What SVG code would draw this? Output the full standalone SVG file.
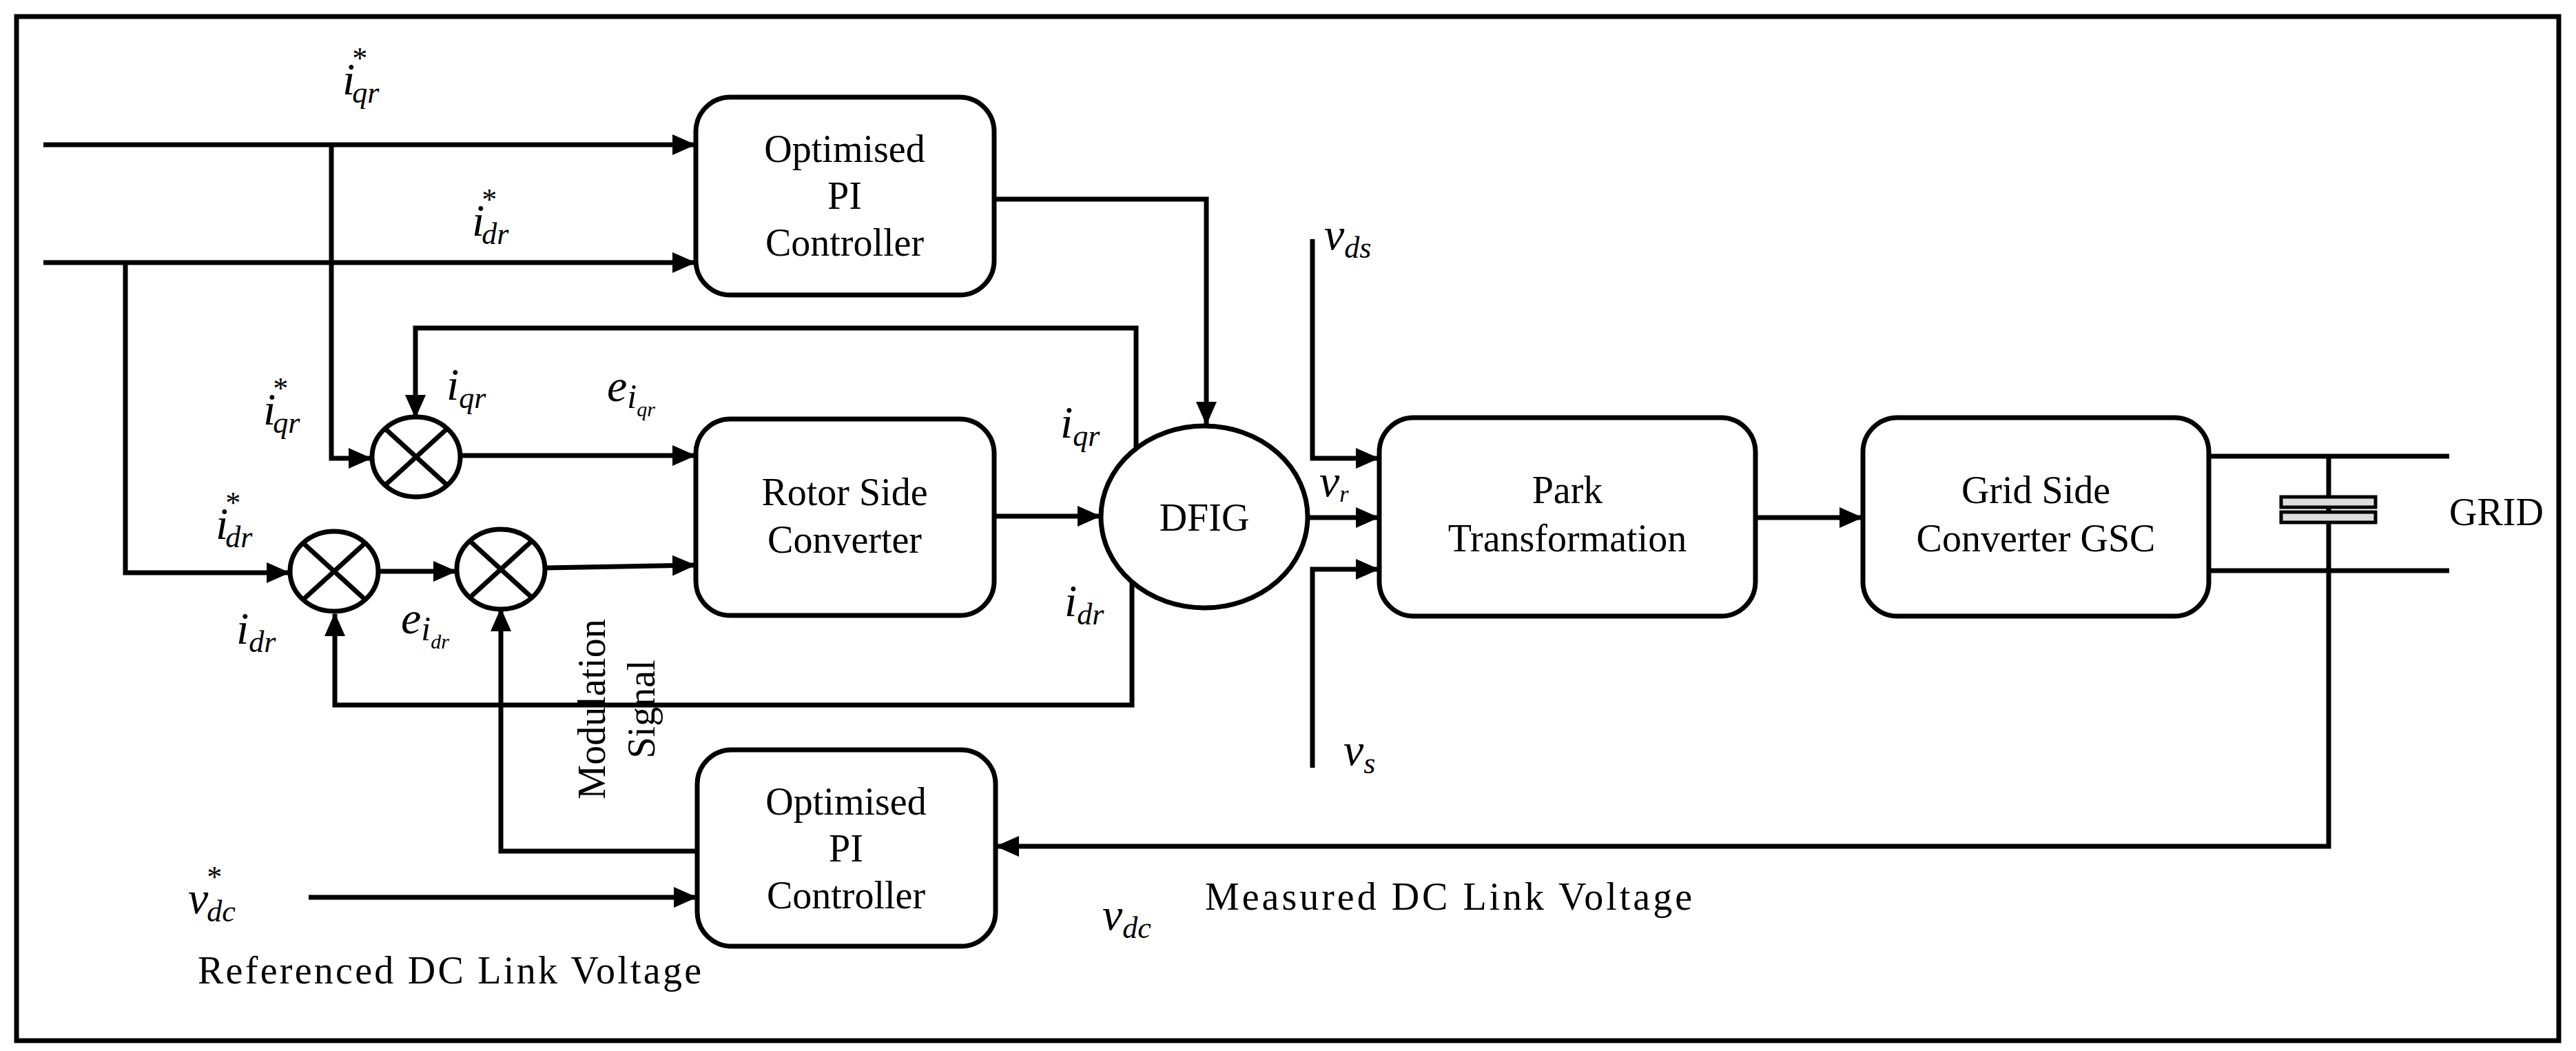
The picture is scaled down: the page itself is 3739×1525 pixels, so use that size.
<svg xmlns="http://www.w3.org/2000/svg" width="3739" height="1525" viewBox="0 0 3739 1525">
<defs>
<marker id="ah" markerUnits="userSpaceOnUse" markerWidth="34" markerHeight="30" refX="32" refY="15" orient="auto"><path d="M0,0 L34,15 L0,30 Z" fill="#000"/></marker>
</defs>
<style>
.box{fill:#fff;stroke:#000;stroke-width:7}
.ln{fill:none;stroke:#000;stroke-width:7}
.arr{fill:none;stroke:#000;stroke-width:7;marker-end:url(#ah)}
.t{font-family:"Liberation Serif",serif;font-size:56px;fill:#000}
.m{font-family:"Liberation Serif",serif;font-style:italic;font-size:66px;fill:#000}
.s{font-size:44px}
</style>
<rect x="24" y="24" width="3690" height="1486" fill="#fff" stroke="#000" stroke-width="7"/>
<g id="connectors">
<path class="arr" d="M63,210 H1008"/>
<path class="arr" d="M63,381 H1008"/>
<path class="arr" d="M481,210 V665 H538"/>
<path class="arr" d="M182,381 V831 H419"/>
<path class="arr" d="M1649,660 V476 H603 V605"/>
<path class="arr" d="M668,661 H1008"/>
<path class="arr" d="M550,829 H661"/>
<path class="arr" d="M792,824 L1008,820"/>
<path class="arr" d="M1443,749 H1596"/>
<path class="arr" d="M1443,289 H1751 V615"/>
<path class="arr" d="M1643,842 V1023 H486 V891"/>
<path class="arr" d="M1012,1235 H727 V884"/>
<path class="arr" d="M448,1302 H1010"/>
<path class="arr" d="M3380,662 V1228 H1447"/>
<path class="arr" d="M1905,347 V665 H2000"/>
<path class="arr" d="M1898,751 H2000"/>
<path class="arr" d="M1905,1114 V826 H2000"/>
<path class="arr" d="M2548,751 H2702"/>
<path class="ln" d="M3206,662 H3555 M3206,828 H3555"/>
</g>
<g id="capacitor">
<rect x="3311" y="721" width="137" height="15" fill="#ddd" stroke="#000" stroke-width="5"/>
<rect x="3311" y="743" width="137" height="15" fill="#ddd" stroke="#000" stroke-width="5"/>
</g>
<g id="pi-top"><rect class="box" x="1010" y="141" width="433" height="287" rx="50"/>
<text class="t" text-anchor="middle" x="1226" y="235">Optimised</text><text class="t" text-anchor="middle" x="1226" y="303">PI</text><text class="t" text-anchor="middle" x="1226" y="371">Controller</text></g>
<g id="rsc"><rect class="box" x="1010" y="608" width="433" height="285" rx="50"/>
<text class="t" text-anchor="middle" x="1226" y="733">Rotor Side</text><text class="t" text-anchor="middle" x="1226" y="802">Converter</text></g>
<g id="pi-bottom"><rect class="box" x="1012" y="1088" width="433" height="285" rx="50"/>
<text class="t" text-anchor="middle" x="1228" y="1182">Optimised</text><text class="t" text-anchor="middle" x="1228" y="1250">PI</text><text class="t" text-anchor="middle" x="1228" y="1318">Controller</text></g>
<g id="dfig"><ellipse class="box" cx="1748" cy="750" rx="150" ry="132"/>
<text class="t" text-anchor="middle" x="1748" y="770">DFIG</text></g>
<g id="park"><rect class="box" x="2002" y="606" width="546" height="288" rx="50"/>
<text class="t" text-anchor="middle" x="2275" y="730">Park</text><text class="t" text-anchor="middle" x="2275" y="800">Transformation</text></g>
<g id="gsc"><rect class="box" x="2704" y="606" width="502" height="288" rx="50"/>
<text class="t" text-anchor="middle" x="2955" y="730">Grid Side</text><text class="t" text-anchor="middle" x="2955" y="800">Converter GSC</text></g>
<g id="sum1"><ellipse class="box" cx="604" cy="663" rx="64" ry="58"/><path class="ln" stroke-width="5" d="M559,622 L649,704 M649,622 L559,704"/></g>
<g id="sum2"><ellipse class="box" cx="485" cy="829" rx="64" ry="58"/><path class="ln" stroke-width="5" d="M440,788 L530,870 M530,788 L440,870"/></g>
<g id="sum3"><ellipse class="box" cx="727" cy="826" rx="64" ry="58"/><path class="ln" stroke-width="5" d="M682,785 L772,867 M772,785 L682,867"/></g>
<g id="labels">
<text class="m" x="497" y="137">i<tspan class="s" dy="-38" dx="-6">*</tspan><tspan class="s" dy="50" dx="-20">qr</tspan></text>
<text class="m" x="685" y="342">i<tspan class="s" dy="-38" dx="-6">*</tspan><tspan class="s" dy="50" dx="-20">dr</tspan></text>
<text class="m" x="382" y="616">i<tspan class="s" dy="-38" dx="-6">*</tspan><tspan class="s" dy="50" dx="-20">qr</tspan></text>
<text class="m" x="313" y="782">i<tspan class="s" dy="-38" dx="-6">*</tspan><tspan class="s" dy="50" dx="-20">dr</tspan></text>
<text class="m" x="648" y="580">i<tspan class="s" dy="12">qr</tspan></text>
<text class="m" x="343" y="934">i<tspan class="s" dy="12">dr</tspan></text>
<text class="m" x="881" y="582">e<tspan font-size="50" dy="10">i</tspan><tspan font-size="30" dy="12">qr</tspan></text>
<text class="m" x="582" y="919">e<tspan font-size="50" dy="10">i</tspan><tspan font-size="30" dy="12">dr</tspan></text>
<text class="m" x="1539" y="635">i<tspan class="s" dy="12">qr</tspan></text>
<text class="m" x="1545" y="894">i<tspan class="s" dy="12">dr</tspan></text>
<text class="m" x="1922" y="362">v<tspan class="s" dy="12">ds</tspan></text>
<text class="m" x="1915" y="720" font-size="48">v<tspan font-size="34" dy="8">r</tspan></text>
<text class="m" x="1950" y="1110">v<tspan class="s" dy="12">s</tspan></text>
<text class="m" x="273" y="1325">v<tspan class="s" dy="-38" dx="-4">*</tspan><tspan class="s" dy="50" dx="-20">dc</tspan></text>
<text class="m" x="1600" y="1349">v<tspan class="s" dy="12">dc</tspan></text>
<text class="t" x="287" y="1427" textLength="731">Referenced DC Link Voltage</text>
<text class="t" x="1749" y="1320" textLength="707">Measured DC Link Voltage</text>
<text class="t" x="3555" y="762">GRID</text>
<text class="t" text-anchor="middle" transform="translate(878,1029) rotate(-90)">Modulation</text>
<text class="t" text-anchor="middle" transform="translate(950,1029) rotate(-90)">Signal</text>
</g>
</svg>
